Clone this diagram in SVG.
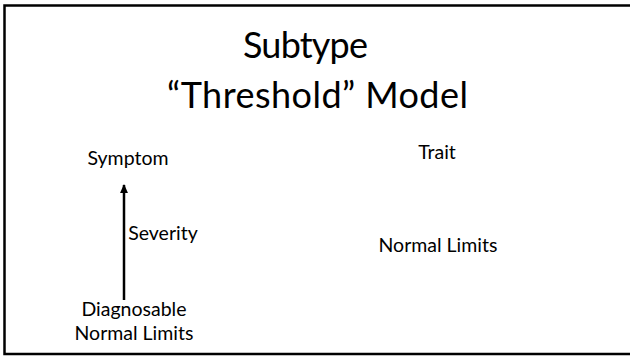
<svg xmlns="http://www.w3.org/2000/svg" width="630" height="356" viewBox="0 0 630 356">
<defs>
<style>
text{font-family:Lato,"Open Sans","Liberation Sans",sans-serif;fill:#000;text-anchor:middle}
.t{font-size:36px}
.l{font-size:19.5px}
</style>
<marker id="ah" viewBox="0 0 10 10" refX="9" refY="5" markerWidth="9" markerHeight="8" orient="auto" markerUnits="userSpaceOnUse" preserveAspectRatio="none">
<path d="M0,0 L10,5 L0,10 z" fill="#000"/>
</marker>
</defs>
<rect x="0" y="0" width="630" height="356" fill="#fff"/>
<path d="M660,5.5 H4.5 V354 H660" fill="none" stroke="#000" stroke-width="2.5"/>
<g id="title">
<text class="t" x="305.5" y="58" textLength="125">Subtype</text>
<text class="t" x="317.5" y="108" textLength="301">“Threshold” Model</text>
</g>
<g id="symptom"><text class="l" x="128" y="165">Symptom</text></g>
<g id="trait"><text class="l" x="437" y="159">Trait</text></g>
<g id="severity"><text class="l" x="163" y="240">Severity</text></g>
<g id="normal-right"><text class="l" x="438" y="252">Normal Limits</text></g>
<g id="diagnosable"><text class="l" x="134" y="316">Diagnosable</text></g>
<g id="normal-left"><text class="l" x="134" y="340">Normal Limits</text></g>
<g id="connectors">
<line x1="124" y1="300" x2="124" y2="185" stroke="#000" stroke-width="2.5" marker-end="url(#ah)"/>
</g>
</svg>
